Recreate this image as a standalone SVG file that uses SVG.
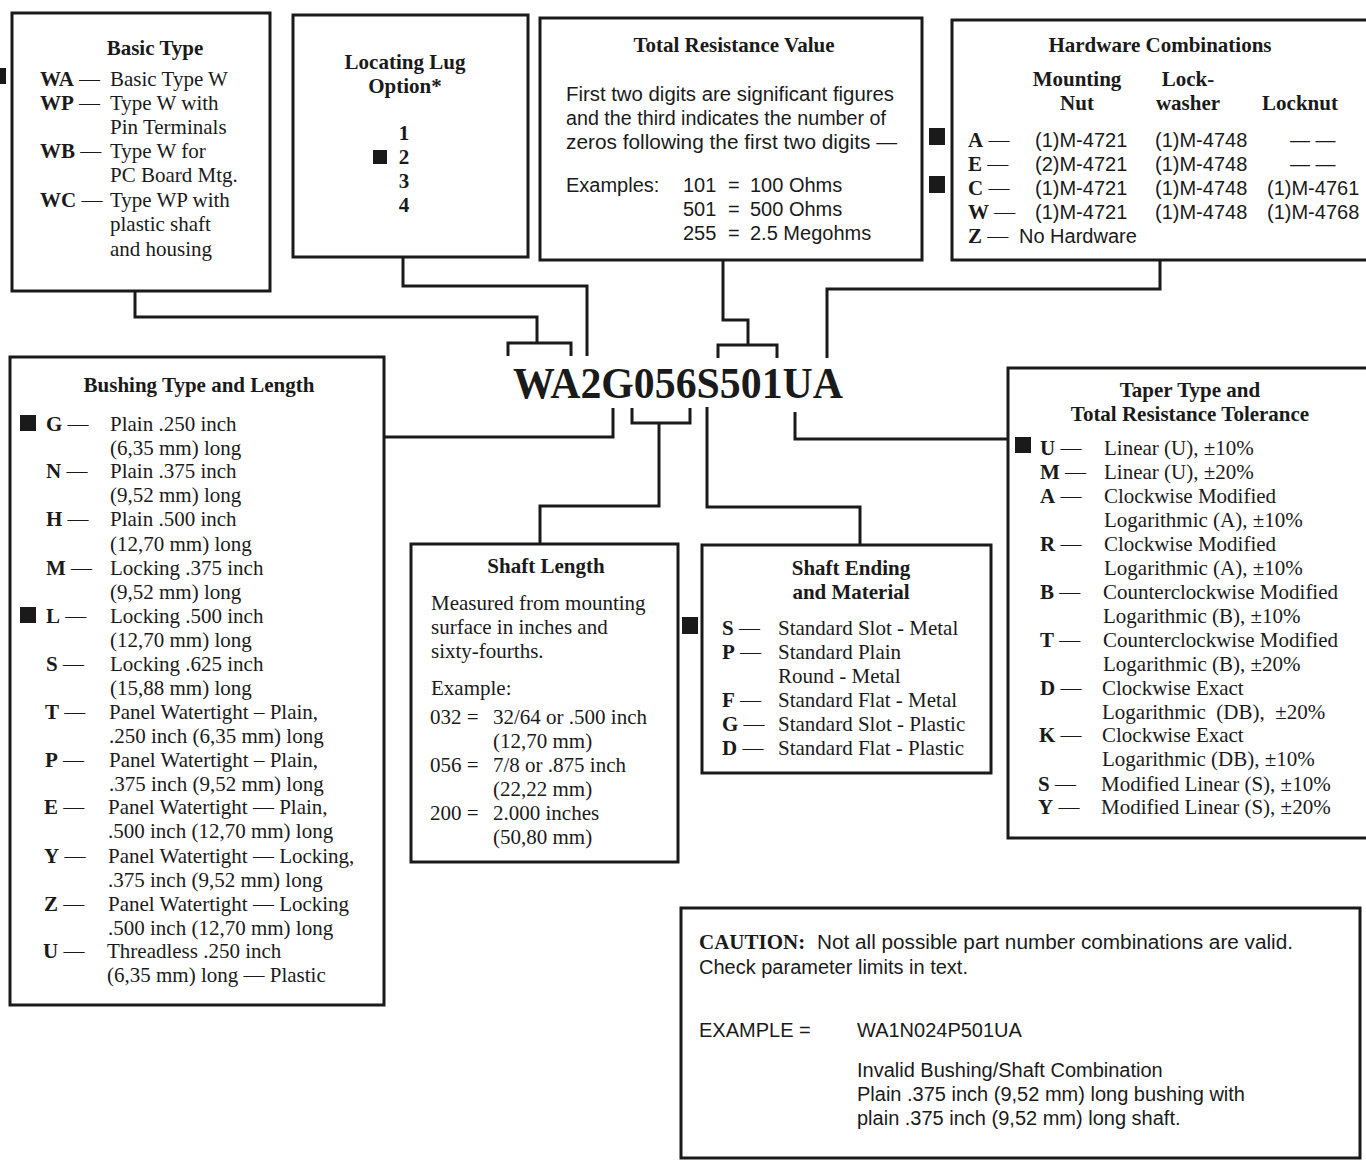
<svg xmlns="http://www.w3.org/2000/svg" width="1366" height="1161" viewBox="0 0 1366 1161">
<style>
.bg{fill:#ffffff}
.box{fill:#ffffff;stroke:#1a1a1a;stroke-width:3}
.conn{fill:none;stroke:#1a1a1a;stroke-width:3}
.mk{fill:#1a1a1a}
text{fill:#1a1a1a}
.t{font-family:"Liberation Serif",serif;font-size:21px}
.s{font-family:"Liberation Sans",sans-serif;font-size:20px}
.b{font-family:"Liberation Serif",serif;font-size:21px;font-weight:bold}
.c{text-anchor:middle}
.pn{font-family:"Liberation Serif",serif;font-size:44px;font-weight:bold}
</style>
<rect class="bg" x="0" y="0" width="1366" height="1161"/>

<g id="connectors">
<path class="conn" d="M135 291 V317 H537 V343"/>
<path class="conn" d="M508 356 V343 H571 V356"/>
<path class="conn" d="M403 257 V286 H587 V356"/>
<path class="conn" d="M723 260 V320 H748 V345"/>
<path class="conn" d="M718 358 V345 H777 V358"/>
<path class="conn" d="M1160 260 V289 H827 V358"/>
<path class="conn" d="M613 408 V437 H384"/>
<path class="conn" d="M632 408 V423 H690 V408"/>
<path class="conn" d="M659 423 V506 H540 V544"/>
<path class="conn" d="M707 407 V507 H860 V545"/>
<path class="conn" d="M795 412 V439 H1008"/>
</g>

<g id="part-number">
<text class="pn" x="513" y="398" textLength="330" lengthAdjust="spacingAndGlyphs">WA2G056S501UA</text>
</g>

<g id="basic-type">
<rect class="box" x="12" y="13" width="258" height="278"/>
<rect class="mk" x="-4" y="68" width="10" height="16"/>
<text class="b c" x="155" y="55">Basic Type</text>
<text class="t" x="40" y="86"><tspan font-weight="bold">WA</tspan> —</text>
<text class="t" x="110" y="86">Basic Type W</text>
<text class="t" x="40" y="110"><tspan font-weight="bold">WP</tspan> —</text>
<text class="t" x="110" y="110">Type W with</text>
<text class="t" x="110" y="134">Pin Terminals</text>
<text class="t" x="40" y="158"><tspan font-weight="bold">WB</tspan> —</text>
<text class="t" x="110" y="158">Type W for</text>
<text class="t" x="110" y="182">PC Board Mtg.</text>
<text class="t" x="40" y="207"><tspan font-weight="bold">WC</tspan> —</text>
<text class="t" x="110" y="207">Type WP with</text>
<text class="t" x="110" y="231">plastic shaft</text>
<text class="t" x="110" y="256">and housing</text>
</g>

<g id="locating-lug">
<rect class="box" x="293" y="15" width="235" height="242"/>
<text class="b c" x="405" y="69">Locating Lug</text>
<text class="b c" x="405" y="93">Option*</text>
<text class="b c" x="404" y="140">1</text>
<rect class="mk" x="373" y="150" width="14" height="14"/>
<text class="b c" x="404" y="164">2</text>
<text class="b c" x="404" y="188">3</text>
<text class="b c" x="404" y="212">4</text>
</g>

<g id="total-resistance">
<rect class="box" x="540" y="18" width="382" height="242"/>
<text class="b c" x="734" y="52">Total Resistance Value</text>
<text class="s" x="566" y="101" textLength="328" lengthAdjust="spacingAndGlyphs">First two digits are significant figures</text>
<text class="s" x="566" y="125" textLength="320" lengthAdjust="spacingAndGlyphs">and the third indicates the number of</text>
<text class="s" x="566" y="149" textLength="331" lengthAdjust="spacingAndGlyphs">zeros following the first two digits —</text>
<text class="s" x="566" y="192">Examples:</text>
<text class="s" x="683" y="192">101</text>
<text class="s" x="728" y="192">=</text>
<text class="s" x="750" y="192">100 Ohms</text>
<text class="s" x="683" y="216">501</text>
<text class="s" x="728" y="216">=</text>
<text class="s" x="750" y="216">500 Ohms</text>
<text class="s" x="683" y="240">255</text>
<text class="s" x="728" y="240">=</text>
<text class="s" x="750" y="240">2.5 Megohms</text>
</g>

<g id="hardware">
<rect class="box" x="952" y="20" width="430" height="240"/>
<rect class="mk" x="929" y="128" width="16" height="17"/>
<rect class="mk" x="929" y="176" width="16" height="17"/>
<text class="b c" x="1160" y="52">Hardware Combinations</text>
<text class="b c" x="1077" y="86">Mounting</text>
<text class="b c" x="1077" y="110">Nut</text>
<text class="b c" x="1188" y="86">Lock-</text>
<text class="b c" x="1188" y="110">washer</text>
<text class="b c" x="1300" y="110">Locknut</text>
<text class="t" x="968" y="147"><tspan font-weight="bold">A</tspan> —</text>
<text class="s" x="1035" y="147">(1)M-4721</text>
<text class="s" x="1155" y="147">(1)M-4748</text>
<text class="s" x="1290" y="147">— —</text>
<text class="t" x="968" y="171"><tspan font-weight="bold">E</tspan> —</text>
<text class="s" x="1035" y="171">(2)M-4721</text>
<text class="s" x="1155" y="171">(1)M-4748</text>
<text class="s" x="1290" y="171">— —</text>
<text class="t" x="968" y="195"><tspan font-weight="bold">C</tspan> —</text>
<text class="s" x="1035" y="195">(1)M-4721</text>
<text class="s" x="1155" y="195">(1)M-4748</text>
<text class="s" x="1267" y="195">(1)M-4761</text>
<text class="t" x="968" y="219"><tspan font-weight="bold">W</tspan> —</text>
<text class="s" x="1035" y="219">(1)M-4721</text>
<text class="s" x="1155" y="219">(1)M-4748</text>
<text class="s" x="1267" y="219">(1)M-4768</text>
<text class="t" x="968" y="243"><tspan font-weight="bold">Z</tspan> —</text>
<text class="s" x="1019" y="243">No Hardware</text>
</g>

<g id="bushing">
<rect class="box" x="10" y="357" width="374" height="648"/>
<text class="b c" x="199" y="392">Bushing Type and Length</text>
<rect class="mk" x="20" y="415" width="16" height="16"/>
<rect class="mk" x="20" y="607" width="16" height="16"/>
<text class="t" x="46" y="431"><tspan font-weight="bold">G</tspan> —</text>
<text class="t" x="110" y="431">Plain .250 inch</text>
<text class="t" x="110" y="455">(6,35 mm) long</text>
<text class="t" x="46" y="478"><tspan font-weight="bold">N</tspan> —</text>
<text class="t" x="110" y="478">Plain .375 inch</text>
<text class="t" x="110" y="502">(9,52 mm) long</text>
<text class="t" x="46" y="526"><tspan font-weight="bold">H</tspan> —</text>
<text class="t" x="110" y="526">Plain .500 inch</text>
<text class="t" x="110" y="551">(12,70 mm) long</text>
<text class="t" x="46" y="575"><tspan font-weight="bold">M</tspan> —</text>
<text class="t" x="110" y="575">Locking .375 inch</text>
<text class="t" x="110" y="599">(9,52 mm) long</text>
<text class="t" x="46" y="623"><tspan font-weight="bold">L</tspan> —</text>
<text class="t" x="110" y="623">Locking .500 inch</text>
<text class="t" x="110" y="647">(12,70 mm) long</text>
<text class="t" x="46" y="671"><tspan font-weight="bold">S</tspan> —</text>
<text class="t" x="110" y="671">Locking .625 inch</text>
<text class="t" x="110" y="695">(15,88 mm) long</text>
<text class="t" x="45" y="719"><tspan font-weight="bold">T</tspan> —</text>
<text class="t" x="109" y="719">Panel Watertight – Plain,</text>
<text class="t" x="109" y="743">.250 inch (6,35 mm) long</text>
<text class="t" x="45" y="767"><tspan font-weight="bold">P</tspan> —</text>
<text class="t" x="109" y="767">Panel Watertight – Plain,</text>
<text class="t" x="109" y="791">.375 inch (9,52 mm) long</text>
<text class="t" x="44" y="814"><tspan font-weight="bold">E</tspan> —</text>
<text class="t" x="108" y="814">Panel Watertight — Plain,</text>
<text class="t" x="108" y="838">.500 inch (12,70 mm) long</text>
<text class="t" x="44" y="863"><tspan font-weight="bold">Y</tspan> —</text>
<text class="t" x="108" y="863">Panel Watertight — Locking,</text>
<text class="t" x="108" y="887">.375 inch (9,52 mm) long</text>
<text class="t" x="44" y="911"><tspan font-weight="bold">Z</tspan> —</text>
<text class="t" x="108" y="911">Panel Watertight — Locking</text>
<text class="t" x="108" y="935">.500 inch (12,70 mm) long</text>
<text class="t" x="43" y="958"><tspan font-weight="bold">U</tspan> —</text>
<text class="t" x="107" y="958">Threadless .250 inch</text>
<text class="t" x="107" y="982">(6,35 mm) long — Plastic</text>
</g>

<g id="shaft-length">
<rect class="box" x="411" y="544" width="267" height="318"/>
<text class="b c" x="546" y="573">Shaft Length</text>
<text class="t" x="431" y="610">Measured from mounting</text>
<text class="t" x="431" y="634">surface in inches and</text>
<text class="t" x="431" y="658">sixty-fourths.</text>
<text class="t" x="431" y="695">Example:</text>
<text class="t" x="430" y="724">032 =</text>
<text class="t" x="493" y="724">32/64 or .500 inch</text>
<text class="t" x="493" y="748">(12,70 mm)</text>
<text class="t" x="430" y="772">056 =</text>
<text class="t" x="493" y="772">7/8 or .875 inch</text>
<text class="t" x="493" y="796">(22,22 mm)</text>
<text class="t" x="430" y="820">200 =</text>
<text class="t" x="493" y="820">2.000 inches</text>
<text class="t" x="493" y="844">(50,80 mm)</text>
</g>

<g id="shaft-ending">
<rect class="box" x="702" y="545" width="289" height="228"/>
<rect class="mk" x="682" y="617" width="16" height="17"/>
<text class="b c" x="851" y="575">Shaft Ending</text>
<text class="b c" x="851" y="599">and Material</text>
<text class="t" x="722" y="635"><tspan font-weight="bold">S</tspan> —</text>
<text class="t" x="778" y="635">Standard Slot - Metal</text>
<text class="t" x="722" y="659"><tspan font-weight="bold">P</tspan> —</text>
<text class="t" x="778" y="659">Standard Plain</text>
<text class="t" x="778" y="683">Round - Metal</text>
<text class="t" x="722" y="707"><tspan font-weight="bold">F</tspan> —</text>
<text class="t" x="778" y="707">Standard Flat - Metal</text>
<text class="t" x="722" y="731"><tspan font-weight="bold">G</tspan> —</text>
<text class="t" x="778" y="731">Standard Slot - Plastic</text>
<text class="t" x="722" y="755"><tspan font-weight="bold">D</tspan> —</text>
<text class="t" x="778" y="755">Standard Flat - Plastic</text>
</g>

<g id="taper">
<rect class="box" x="1008" y="368" width="374" height="470"/>
<rect class="mk" x="1015" y="437" width="16" height="16"/>
<text class="b c" x="1190" y="397">Taper Type and</text>
<text class="b c" x="1190" y="421">Total Resistance Tolerance</text>
<text class="t" x="1040" y="455"><tspan font-weight="bold">U</tspan> —</text>
<text class="t" x="1104" y="455">Linear (U), ±10%</text>
<text class="t" x="1040" y="479"><tspan font-weight="bold">M</tspan> —</text>
<text class="t" x="1104" y="479">Linear (U), ±20%</text>
<text class="t" x="1040" y="503"><tspan font-weight="bold">A</tspan> —</text>
<text class="t" x="1104" y="503">Clockwise Modified</text>
<text class="t" x="1104" y="527">Logarithmic (A), ±10%</text>
<text class="t" x="1040" y="551"><tspan font-weight="bold">R</tspan> —</text>
<text class="t" x="1104" y="551">Clockwise Modified</text>
<text class="t" x="1104" y="575">Logarithmic (A), ±10%</text>
<text class="t" x="1040" y="599"><tspan font-weight="bold">B</tspan> —</text>
<text class="t" x="1103" y="599">Counterclockwise Modified</text>
<text class="t" x="1103" y="623">Logarithmic (B), ±10%</text>
<text class="t" x="1040" y="647"><tspan font-weight="bold">T</tspan> —</text>
<text class="t" x="1103" y="647">Counterclockwise Modified</text>
<text class="t" x="1103" y="671">Logarithmic (B), ±20%</text>
<text class="t" x="1040" y="695"><tspan font-weight="bold">D</tspan> —</text>
<text class="t" x="1102" y="695">Clockwise Exact</text>
<text class="t" x="1102" y="719" xml:space="preserve">Logarithmic  (DB),  ±20%</text>
<text class="t" x="1039" y="742"><tspan font-weight="bold">K</tspan> —</text>
<text class="t" x="1102" y="742">Clockwise Exact</text>
<text class="t" x="1102" y="766">Logarithmic (DB), ±10%</text>
<text class="t" x="1038" y="791"><tspan font-weight="bold">S</tspan> —</text>
<text class="t" x="1101" y="791">Modified Linear (S), ±10%</text>
<text class="t" x="1038" y="814"><tspan font-weight="bold">Y</tspan> —</text>
<text class="t" x="1101" y="814">Modified Linear (S), ±20%</text>
</g>

<g id="caution">
<rect class="box" x="681" y="908" width="679" height="250"/>
<text class="b" x="699" y="949">CAUTION:</text>
<text class="s" x="817" y="949" textLength="476" lengthAdjust="spacingAndGlyphs">Not all possible part number combinations are valid.</text>
<text class="s" x="699" y="974">Check parameter limits in text.</text>
<text class="s" x="699" y="1037">EXAMPLE =</text>
<text class="s" x="857" y="1037">WA1N024P501UA</text>
<text class="s" x="857" y="1077">Invalid Bushing/Shaft Combination</text>
<text class="s" x="857" y="1101">Plain .375 inch (9,52 mm) long bushing with</text>
<text class="s" x="857" y="1125">plain .375 inch (9,52 mm) long shaft.</text>
</g>
</svg>
